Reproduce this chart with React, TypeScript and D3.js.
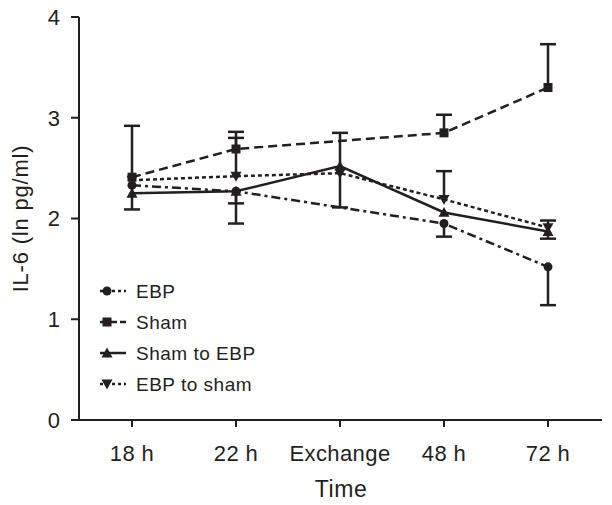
import React from "react";
import * as d3 from "d3";

const categories = ["18 h", "22 h", "Exchange", "48 h", "72 h"];
const yTicks = [0, 1, 2, 3, 4];

type Pt = { x: string; y: number; lo?: number; hi?: number };

const ebp: Pt[] = [
  { x: "18 h", y: 2.33 },
  { x: "22 h", y: 2.27, lo: 1.95 },
  { x: "48 h", y: 1.95, lo: 1.82 },
  { x: "72 h", y: 1.52, lo: 1.14 },
];
const sham: Pt[] = [
  { x: "18 h", y: 2.41, hi: 2.92 },
  { x: "22 h", y: 2.69, hi: 2.86 },
  { x: "48 h", y: 2.85, hi: 3.03 },
  { x: "72 h", y: 3.3, hi: 3.73 },
];
const shamToEbp: Pt[] = [
  { x: "18 h", y: 2.25, lo: 2.09 },
  { x: "22 h", y: 2.27, lo: 2.15 },
  { x: "Exchange", y: 2.52, lo: 2.11, hi: 2.85 },
  { x: "48 h", y: 2.06 },
  { x: "72 h", y: 1.87, lo: 1.8 },
];
const ebpToSham: Pt[] = [
  { x: "18 h", y: 2.38 },
  { x: "22 h", y: 2.42, hi: 2.8 },
  { x: "Exchange", y: 2.45 },
  { x: "48 h", y: 2.19, hi: 2.47 },
  { x: "72 h", y: 1.91, hi: 1.98 },
];

const seriesNames = ["EBP", "Sham", "Sham to EBP", "EBP to sham"];

const W = 612;
const H = 505;
const FONT = "'Liberation Sans', Arial, Helvetica, sans-serif";
const C = "#231f20";

function Marker({ kind, x, y }: { kind: string; x: number; y: number }) {
  if (kind === "circle") return <circle cx={x} cy={y} r={4.5} fill={C} />;
  if (kind === "square") return <rect x={x - 4.5} y={y - 4.5} width={9} height={9} fill={C} />;
  if (kind === "tri") {
    const s = 5.5;
    return <path d={`M${x},${y - s} L${x + s},${y + s * 0.8} L${x - s},${y + s * 0.8} Z`} fill={C} />;
  }
  const s = 5.5;
  return <path d={`M${x},${y + s} L${x + s},${y - s * 0.8} L${x - s},${y - s * 0.8} Z`} fill={C} />;
}

export default function App() {
  const x = d3.scalePoint<string>().domain(categories).range([132, 548]);
  const y = d3.scaleLinear().domain([0, 4]).range([420, 17]);
  const axisX0 = 79;
  const axisX1 = 602;

  const series = [
    { name: seriesNames[0], data: ebp, dash: "9,4,3,4", legDash: "3,3", marker: "circle" },
    { name: seriesNames[1], data: sham, dash: "9,5", legDash: "7,3", marker: "square" },
    { name: seriesNames[2], data: shamToEbp, dash: "", legDash: "", marker: "tri" },
    { name: seriesNames[3], data: ebpToSham, dash: "4,3", legDash: "3,3", marker: "tridown" },
  ];

  const line = d3
    .line<Pt>()
    .x((d) => x(d.x) as number)
    .y((d) => y(d.y));

  const capW = 8;

  return (
    <svg width={W} height={H} style={{ position: "absolute", left: 0, top: 0, background: "#fff" }} fontFamily={FONT}>
      <rect width={W} height={H} fill="#fff" />
      {/* axes */}
      <line x1={axisX0} y1={y(4)} x2={axisX0} y2={y(0)} stroke={C} strokeWidth={2} />
      <line x1={axisX0} y1={y(0)} x2={axisX1} y2={y(0)} stroke={C} strokeWidth={2} />
      {yTicks.map((t) => (
        <g key={t}>
          <line x1={axisX0 - 8} x2={axisX0} y1={y(t)} y2={y(t)} stroke={C} strokeWidth={2} />
          <text x={axisX0 - 19} y={y(t)} dy="0.36em" textAnchor="end" fontSize={22} fill={C}>
            {t}
          </text>
        </g>
      ))}
      {categories.map((c) => (
        <g key={c}>
          <line x1={x(c)} x2={x(c)} y1={y(0)} y2={y(0) + 7} stroke={C} strokeWidth={2} />
          <text x={x(c)} y={y(0) + 41} textAnchor="middle" fontSize={22} letterSpacing={0.4} fill={C}>
            {c}
          </text>
        </g>
      ))}
      <text x={341} y={497} textAnchor="middle" fontSize={23} letterSpacing={0.6} fill={C}>
        Time
      </text>
      <text
        transform={`translate(28,${y(2)}) rotate(-90)`}
        textAnchor="middle"
        fontSize={22}
        letterSpacing={0.8}
        fill={C}
      >
        IL-6 (ln pg/ml)
      </text>

      {/* error bars */}
      {series.map((s) =>
        s.data.map((d, i) => {
          const cx = x(d.x) as number;
          const parts: JSX.Element[] = [];
          if (d.hi !== undefined) {
            parts.push(
              <g key={`h${i}`}>
                <line x1={cx} x2={cx} y1={y(d.y)} y2={y(d.hi)} stroke={C} strokeWidth={2.5} />
                <line x1={cx - capW} x2={cx + capW} y1={y(d.hi)} y2={y(d.hi)} stroke={C} strokeWidth={2.5} />
              </g>
            );
          }
          if (d.lo !== undefined) {
            parts.push(
              <g key={`l${i}`}>
                <line x1={cx} x2={cx} y1={y(d.y)} y2={y(d.lo)} stroke={C} strokeWidth={2.5} />
                <line x1={cx - capW} x2={cx + capW} y1={y(d.lo)} y2={y(d.lo)} stroke={C} strokeWidth={2.5} />
              </g>
            );
          }
          return <g key={s.name + i}>{parts}</g>;
        })
      )}

      {/* lines */}
      {series.map((s) => (
        <path
          key={s.name}
          d={line(s.data) || ""}
          fill="none"
          stroke={C}
          strokeWidth={2.5}
          strokeDasharray={s.dash || undefined}
        />
      ))}
      {series.map((s) =>
        s.data.map((d, i) => (
          <Marker key={s.name + "m" + i} kind={s.marker} x={x(d.x) as number} y={y(d.y)} />
        ))
      )}

      {/* legend */}
      {series.map((s, i) => {
        const ly = 291 + i * 31;
        return (
          <g key={s.name + "leg"}>
            <line x1={100} x2={126} y1={ly} y2={ly} stroke={C} strokeWidth={2.5} strokeDasharray={s.legDash || undefined} />
            <Marker kind={s.marker} x={107} y={ly} />
            <text x={136} y={ly} dy="0.36em" fontSize={19} letterSpacing={0.5} fill={C}>
              {s.name}
            </text>
          </g>
        );
      })}
    </svg>
  );
}
